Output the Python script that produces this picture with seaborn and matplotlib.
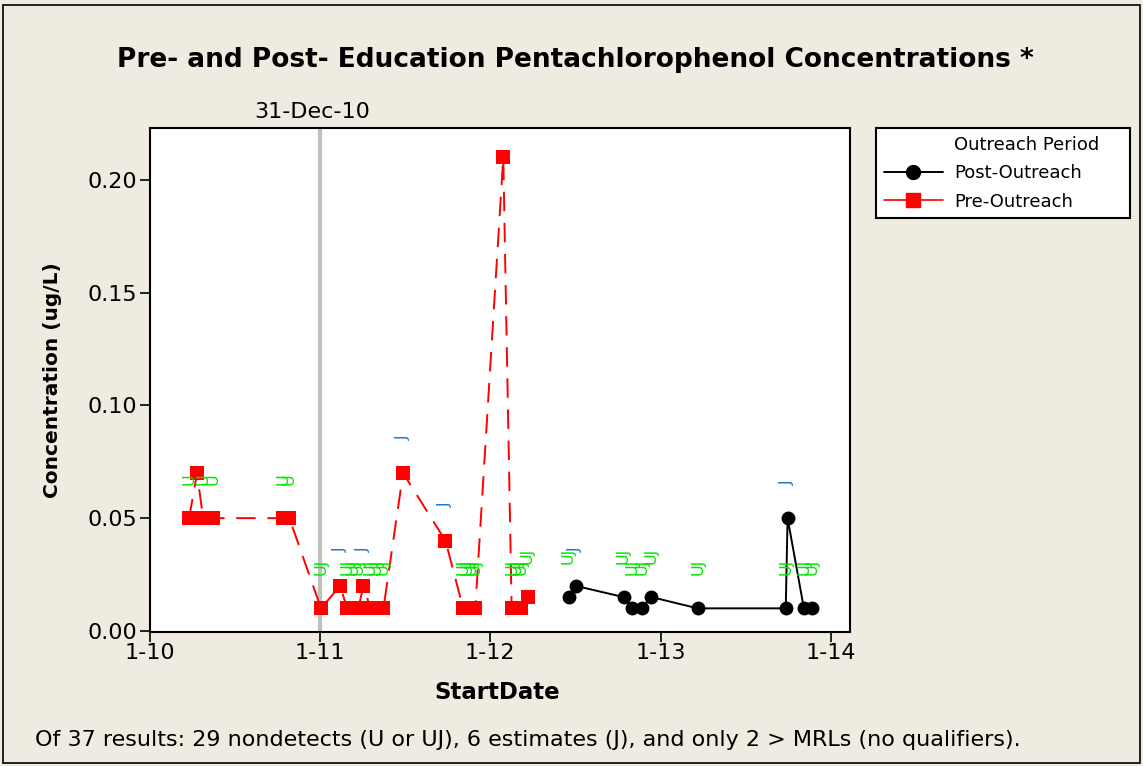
import pandas as pd
import seaborn as sns
import matplotlib
matplotlib.use("Agg")
from matplotlib import pyplot as plt
from matplotlib.lines import Line2D
from matplotlib.patches import Rectangle

# Pre-Outreach samples (red squares)
pre_dates = ["2010-03-26", "2010-04-12", "2010-04-25", "2010-05-16", "2010-10-14",
             "2010-10-27", "2011-01-03", "2011-02-13", "2011-02-28", "2011-03-13",
             "2011-03-24", "2011-04-04", "2011-04-19", "2011-05-02", "2011-05-17",
             "2011-06-28", "2011-09-27", "2011-11-04", "2011-11-13", "2011-11-22",
             "2011-11-30", "2012-01-29", "2012-02-16", "2012-02-26", "2012-03-08",
             "2012-03-21"]
pre_conc = [0.05, 0.07, 0.05, 0.05, 0.05, 0.05, 0.01, 0.02, 0.01, 0.01,
            0.01, 0.02, 0.01, 0.01, 0.01, 0.07, 0.04, 0.01, 0.01, 0.01,
            0.01, 0.21, 0.01, 0.01, 0.01, 0.015]
pre_qual = ["U", "", "U", "U", "U", "U", "UJ", "J", "UJ", "UJ",
            "UJ", "J", "UJ", "UJ", "UJ", "J", "J", "UJ", "UJ", "UJ",
            "UJ", "", "UJ", "UJ", "UJ", "UJ"]

# Post-Outreach samples (black circles)
post_dates = ["2012-06-17", "2012-07-02", "2012-10-13", "2012-11-01", "2012-11-21",
              "2012-12-12", "2013-03-21", "2013-09-26", "2013-09-30", "2013-11-04",
              "2013-11-21"]
post_conc = [0.015, 0.02, 0.015, 0.01, 0.01, 0.015, 0.01, 0.01, 0.05, 0.01, 0.01]
post_qual = ["UJ", "J", "UJ", "UJ", "UJ", "UJ", "UJ", "UJ", "J", "UJ", "UJ"]

periods = ["Post-Outreach", "Pre-Outreach"]
tick_dates = ["2010-01-01", "2011-01-01", "2012-01-01", "2013-01-01", "2014-01-01"]
tick_labels = ["1-10", "1-11", "1-12", "1-13", "1-14"]
y_ticks = [0.00, 0.05, 0.10, 0.15, 0.20]
ref_date = "2010-12-31"
ref_label = "31-Dec-10"

title = "Pre- and Post- Education Pentachlorophenol Concentrations *"
footnote = ("Of 37 results: 29 nondetects (U or UJ), 6 estimates (J), "
            "and only 2 > MRLs (no qualifiers).")

BG = "#efebe1"
colors = {"Post-Outreach": "black", "Pre-Outreach": "#ff0000"}
qual_colors = {"U": "#00e600", "UJ": "#00e600", "J": "#1a75d2"}

df = pd.DataFrame({
    "StartDate": pd.to_datetime(post_dates + pre_dates),
    "Conc": post_conc + pre_conc,
    "Qual": post_qual + pre_qual,
    "Period": ["Post-Outreach"] * len(post_dates) + ["Pre-Outreach"] * len(pre_dates),
})

sns.set_style("white")
plt.rcParams["font.family"] = ["DejaVu Sans"]
plt.rcParams["text.color"] = "black"
plt.rcParams["axes.labelcolor"] = "black"
plt.rcParams["xtick.color"] = "black"
plt.rcParams["ytick.color"] = "black"

fig = plt.figure(figsize=(11.43, 7.66), dpi=100, facecolor=BG)
ax = fig.add_axes([0.1312, 0.1749, 0.6125, 0.658])
ax.set_facecolor("white")

# reference line for start of outreach
ax.axvline(pd.Timestamp(ref_date), color="#c0c0c0", lw=3, zorder=1)
ax.annotate(ref_label, xy=(pd.Timestamp(ref_date), 1.0),
            xycoords=("data", "axes fraction"), xytext=(-5, 4),
            textcoords="offset points", ha="center", va="bottom", fontsize=16)

sns.lineplot(data=df, x="StartDate", y="Conc", hue="Period", style="Period",
             hue_order=periods, style_order=periods, palette=colors,
             markers={"Post-Outreach": "o", "Pre-Outreach": "s"},
             dashes={"Post-Outreach": "", "Pre-Outreach": (10, 6)},
             estimator=None, sort=True, markersize=10, markeredgewidth=0,
             linewidth=1.4, legend=False, ax=ax, zorder=3)

# qualifier labels above points
for _, row in df.iterrows():
    if row["Qual"]:
        ax.annotate(row["Qual"], xy=(row["StartDate"], row["Conc"]),
                    xytext=(0, 24), textcoords="offset points", rotation=90,
                    ha="center", va="bottom", fontsize=11.5,
                    color=qual_colors[row["Qual"]], zorder=4)

ax.set_xlim(pd.Timestamp("2010-01-01"), pd.Timestamp("2014-02-11"))
ax.set_ylim(-0.0005, 0.223)
ax.set_xticks(pd.to_datetime(tick_dates))
ax.set_xticklabels(tick_labels)
ax.set_yticks(y_ticks)
ax.set_yticklabels([f"{v:.2f}" for v in y_ticks])
ax.tick_params(axis="both", direction="out", length=7, width=1.2,
               colors="black", labelsize=16, left=True, bottom=True, pad=2)
ax.tick_params(axis="x", pad=1)

for spine in ax.spines.values():
    spine.set_color("black")
    spine.set_linewidth(1.5)

ax.set_xlabel("StartDate", fontsize=16.5, fontweight="bold")
ax.set_ylabel("Concentration (ug/L)", fontsize=14.5, fontweight="bold")
ax.xaxis.set_label_coords(0.496, -0.098)
ax.yaxis.set_label_coords(-0.126, 0.5)

fig.text(0.503, 0.9217, title, ha="center", va="center",
         fontsize=19, fontweight="bold")
fig.text(0.0306, 0.034, footnote, ha="left", va="center", fontsize=16)

# legend with the period heading as a blank first row
handles = [
    Line2D([], [], linestyle="none", marker=None),
    Line2D([], [], color="black", lw=1.4, marker="o", markersize=10),
    Line2D([], [], color="#ff0000", lw=1.2, marker="s", markersize=10),
]
labels = ["Outreach Period"] + periods
leg = fig.legend(handles, labels, loc="upper left", mode="expand",
                 bbox_to_anchor=(0.7664, 0.7154, 0.2222, 0.1175),
                 bbox_transform=fig.transFigure,
                 borderaxespad=0, frameon=True, fancybox=False, framealpha=1,
                 facecolor="white", edgecolor="black", fontsize=13,
                 handlelength=3.3, numpoints=1, labelspacing=0.58,
                 borderpad=0.42, handletextpad=0.6)
leg.get_frame().set_linewidth(1.5)

fig.patches.append(Rectangle((0.003, 0.004), 0.994, 0.99, transform=fig.transFigure,
                             fill=False, edgecolor="black", lw=1.2))

fig.savefig("out.png", dpi=100, facecolor=BG)
